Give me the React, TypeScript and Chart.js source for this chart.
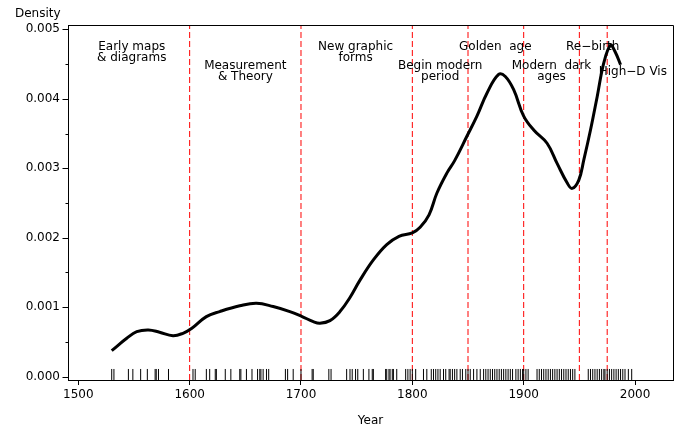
import React, { useEffect, useRef } from 'react';
import { Chart, registerables } from 'chart.js';

Chart.register(...registerables);

// Density curve (year, density)
const CURVE_YEARS = [1530, 1543.5, 1552.5, 1563, 1573, 1585, 1594, 1602, 1615, 1627, 1645, 1660, 1675, 1690, 1701, 1711, 1717, 1726, 1735, 1744, 1753, 1765, 1777, 1788, 1800, 1807, 1815, 1822, 1831, 1838, 1849, 1858, 1867, 1877.5, 1883.5, 1891, 1900, 1909, 1921, 1930, 1939, 1943.5, 1949.5, 1954, 1960, 1966, 1972, 1978, 1982, 1987];
const CURVE_DENSITY = [0.000375, 0.000553, 0.000648, 0.000673, 0.00064, 0.00059, 0.000625, 0.000697, 0.000865, 0.000937, 0.00102, 0.001058, 0.00101, 0.000937, 0.000865, 0.000793, 0.00077, 0.000807, 0.000937, 0.00114, 0.00139, 0.00168, 0.0019, 0.00202, 0.00207, 0.00215, 0.00233, 0.00264, 0.00293, 0.00311, 0.00346, 0.00375, 0.00408, 0.00435, 0.00432, 0.00413, 0.00375, 0.00355, 0.00336, 0.00307, 0.00279, 0.00271, 0.00283, 0.00312, 0.00355, 0.00403, 0.00452, 0.00477, 0.00468, 0.00449];

// Milestone event years (rug)
const EVENT_YEARS = [
  1530, 1532, 1545, 1549, 1556, 1562, 1569, 1570, 1572, 1581,
  1603, 1605, 1615, 1618, 1623, 1624, 1632, 1637, 1645, 1646, 1651, 1656, 1661, 1663, 1664, 1666, 1669, 1671,
  1686, 1688, 1693, 1700, 1710, 1711, 1725, 1727, 1741, 1744, 1746, 1749, 1751, 1756, 1761, 1764, 1765,
  1776, 1777, 1779, 1780, 1782, 1783, 1786, 1794, 1796, 1798, 1800, 1803, 1810, 1813, 1817, 1819, 1821, 1823,
  1825, 1828, 1830, 1833, 1834, 1836, 1838, 1840, 1843, 1845, 1848, 1850, 1852, 1855, 1858, 1861, 1864, 1866,
  1868, 1870, 1872, 1874, 1876, 1878, 1880, 1882, 1884, 1886, 1888, 1890, 1893, 1895, 1897, 1899, 1900, 1902,
  1904, 1912, 1914, 1916, 1918, 1920, 1922, 1924, 1926, 1928, 1930, 1932, 1934, 1936, 1938, 1940, 1942, 1944,
  1946, 1958, 1960, 1962, 1964, 1966, 1968, 1970, 1972, 1973, 1975, 1977, 1979, 1981, 1983, 1985, 1987, 1989,
  1991, 1994, 1997,
];

// Period boundaries
const PERIOD_BREAKS = [1600, 1700, 1800, 1850, 1900, 1950, 1975];

// Period labels
const PERIOD_LABELS = [
  ['Early maps', '& diagrams'],
  ['Measurement', '& Theory'],
  ['New graphic', 'forms'],
  ['Begin modern', 'period'],
  ['Golden  age'],
  ['Modern  dark', 'ages'],
  ['Re−birth'],
  ['High−D Vis'],
];
const LABEL_YEARS = [1548, 1650, 1749, 1825, 1874.5, 1925, 1962, 1998];
const LABEL_DENSITY = [0.00475, 0.004475, 0.00474, 0.004475, 0.00474, 0.004475, 0.00474, 0.00439];

const X_TICKS = [1500, 1600, 1700, 1800, 1900, 2000];
const Y_TICKS = [0, 0.0005, 0.001, 0.0015, 0.002, 0.0025, 0.003, 0.0035, 0.004, 0.0045, 0.005];

const X_MIN = 1490.75;
const X_MAX = 2034.1;
const Y_MIN = -0.0000475;
const Y_MAX = 0.0050617;
const RUG_CENTER = 0.000032;

const FONT = '"DejaVu Sans", sans-serif';

const overlay = {
  id: 'overlay',
  afterDraw(chart: any) {
    const { ctx, chartArea, scales } = chart;
    const x = scales.x;
    const y = scales.y;
    ctx.save();
    ctx.strokeStyle = '#000';
    ctx.lineWidth = 1;
    const l = Math.round(chartArea.left) + 0.5;
    const t = Math.round(chartArea.top) + 0.5;
    const r = Math.round(chartArea.right) + 0.5;
    const b = Math.round(chartArea.bottom) + 0.5;
    ctx.beginPath();
    ctx.moveTo(l, t);
    ctx.lineTo(r, t);
    ctx.lineTo(r, b);
    ctx.stroke();
    // y ticks (major + minor)
    Y_TICKS.forEach((v, i) => {
      const py = Math.round(y.getPixelForValue(v)) + 0.5;
      const len = i % 2 === 0 ? 6 : 3;
      ctx.beginPath();
      ctx.moveTo(l - len, py);
      ctx.lineTo(l, py);
      ctx.stroke();
    });
    // labels
    ctx.fillStyle = '#000';
    ctx.font = '12px ' + FONT;
    ctx.textAlign = 'center';
    ctx.textBaseline = 'middle';
    PERIOD_LABELS.forEach((lines, i) => {
      const px = x.getPixelForValue(LABEL_YEARS[i]);
      const py = y.getPixelForValue(LABEL_DENSITY[i]);
      lines.forEach((s, j) => ctx.fillText(s, px, py + j * 11));
    });
    ctx.textAlign = 'left';
    ctx.fillText('Density', 15, 14);
    ctx.restore();
  },
};

export default function App() {
  const ref = useRef<HTMLCanvasElement>(null);
  useEffect(() => {
    if (!ref.current) return;
    Chart.defaults.font.family = FONT;
    Chart.defaults.font.size = 12;
    Chart.defaults.color = '#000';
    const datasets: any[] = [
      {
        data: CURVE_YEARS.map((yr, i) => ({ x: yr, y: CURVE_DENSITY[i] })),
        borderColor: '#000',
        borderWidth: 3,
        pointRadius: 0,
        tension: 0.4,
        fill: false,
      },
      {
        data: EVENT_YEARS.map((yr) => ({ x: yr, y: RUG_CENTER })),
        showLine: false,
        pointStyle: 'line',
        rotation: 90,
        pointRadius: 5.5,
        pointBorderColor: '#000',
        borderColor: '#000',
        pointBorderWidth: 1,
      },
      ...PERIOD_BREAKS.map((yr) => ({
        data: [
          { x: yr, y: Y_MIN },
          { x: yr, y: Y_MAX },
        ],
        borderColor: 'rgb(255,0,0)',
        borderWidth: 1,
        borderDash: [6, 3],
        pointRadius: 0,
      })),
    ];
    const chart = new Chart(ref.current, {
      type: 'line',
      data: { datasets },
      options: {
        animation: false,
        responsive: false,
        devicePixelRatio: 1,
        layout: { padding: { left: 0, right: 9, top: 25, bottom: 0 } },
        plugins: { legend: { display: false }, tooltip: { enabled: false } },
        scales: {
          x: {
            type: 'linear',
            min: X_MIN,
            max: X_MAX,
            afterBuildTicks: (s: any) => {
              s.ticks = X_TICKS.map((v) => ({ value: v }));
            },
            afterFit: (s: any) => {
              s.height = 49;
            },
            grid: { drawOnChartArea: false, drawTicks: true, tickLength: 5, color: '#000' },
            border: { display: true, color: '#000', width: 1 },
            ticks: { padding: 3, color: '#000', maxRotation: 0, autoSkip: false, callback: (v: any) => String(v) },
            title: { display: true, text: 'Year', color: '#000', padding: { top: 0, bottom: 1 } },
          },
          y: {
            type: 'linear',
            min: Y_MIN,
            max: Y_MAX,
            afterBuildTicks: (s: any) => {
              s.ticks = Y_TICKS.map((v) => ({ value: v }));
            },
            afterFit: (s: any) => {
              s.width = 68;
            },
            grid: { drawOnChartArea: false, drawTicks: false },
            border: { display: true, color: '#000', width: 1 },
            ticks: {
              padding: 8,
              color: '#000',
              autoSkip: false,
              callback: (v: any, i: number) => (i % 2 === 0 ? Number(v).toFixed(3) : ''),
            },
          },
        },
      },
      plugins: [overlay],
    });
    return () => chart.destroy();
  }, []);
  return (
    <div style={{ position: 'absolute', left: 0, top: 0, width: 682, height: 429, background: '#fff' }}>
      <canvas ref={ref} width={682} height={429} />
    </div>
  );
}
